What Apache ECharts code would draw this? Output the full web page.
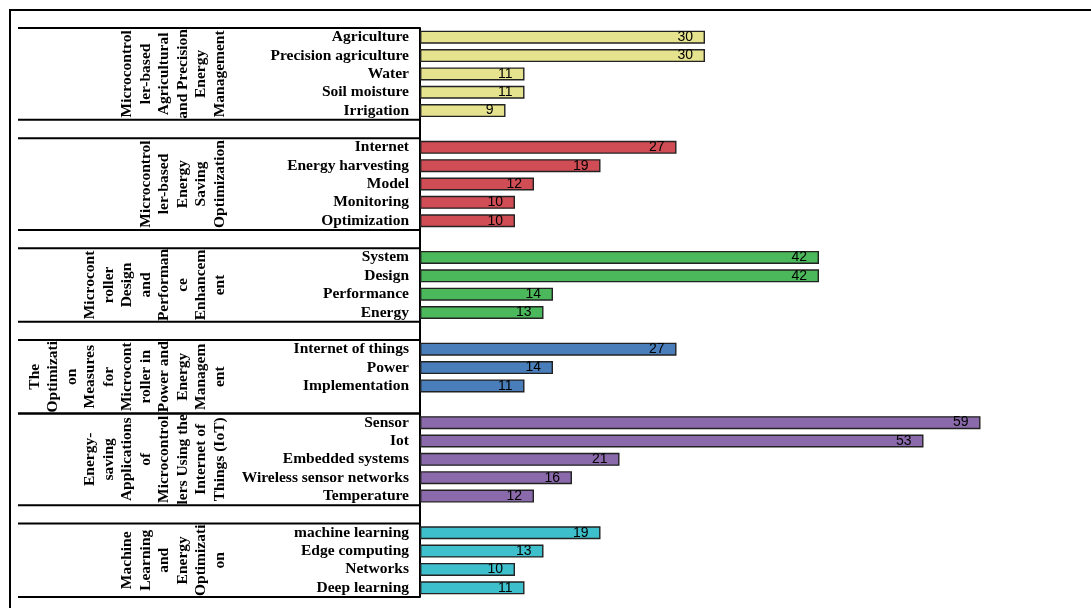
<!DOCTYPE html>
<html>
<head>
<meta charset="utf-8">
<script src="https://cdn.jsdelivr.net/npm/echarts@6/dist/echarts.min.js"></script>
<style>
html,body{margin:0;padding:0;background:#fff;}
#main{width:1091px;height:608px;}
</style>
</head>
<body>
<div id="main"></div>
<script>
// ---- data ----
const groupLabels = [
  ['Microcontrol', 'ler-based', 'Agricultural', 'and Precision', 'Energy', 'Management'],
  ['Microcontrol', 'ler-based', 'Energy', 'Saving', 'Optimization'],
  ['Microcont', 'roller', 'Design', 'and', 'Performan', 'ce', 'Enhancem', 'ent'],
  ['The', 'Optimizati', 'on', 'Measures', 'for', 'Microcont', 'roller in', 'Power and', 'Energy', 'Managem', 'ent'],
  ['Energy-', 'saving', 'Applications', 'of', 'Microcontrol', 'lers Using the', 'Internet of', 'Things (IoT)'],
  ['Machine', 'Learning', 'and', 'Energy', 'Optimizati', 'on']
];
const cats1 = ['Agriculture', 'Precision agriculture', 'Water', 'Soil moisture', 'Irrigation'];
const vals1 = [30, 30, 11, 11, 9];
const cats2 = ['Internet', 'Energy harvesting', 'Model', 'Monitoring', 'Optimization'];
const vals2 = [27, 19, 12, 10, 10];
const cats3 = ['System', 'Design', 'Performance', 'Energy'];
const vals3 = [42, 42, 14, 13];
const cats4 = ['Internet of things', 'Power', 'Implementation'];
const vals4 = [27, 14, 11];
const cats5 = ['Sensor', 'Iot', 'Embedded systems', 'Wireless sensor networks', 'Temperature'];
const vals5 = [59, 53, 21, 16, 12];
const cats6 = ['machine learning', 'Edge computing', 'Networks', 'Deep learning'];
const vals6 = [19, 13, 10, 11];
const groupColors = ['#E6E38E', '#D14D55', '#4CB85C', '#4A7EBB', '#8A6AAA', '#3EBFCC'];
// extra empty slots that a group's label bracket spans below its last bar
const groupExtraSlots = [0, 0, 0, 1, 0, 0];

const groupCats = [cats1, cats2, cats3, cats4, cats5, cats6];
const groupVals = [vals1, vals2, vals3, vals4, vals5, vals6];

// ---- build flat category list with gaps ----
const categories = [];
const barData = [];
const spans = [];
groupCats.forEach((cats, g) => {
  const start = categories.length;
  cats.forEach((c, i) => {
    categories.push(c);
    barData.push({ value: groupVals[g][i], itemStyle: { color: groupColors[g] } });
  });
  const end = categories.length - 1 + groupExtraSlots[g];
  spans.push([start, end]);
  if (g < groupCats.length - 1) {
    categories.push('__gap' + g);
    barData.push({ value: null });
  }
});

const chart = echarts.init(document.getElementById('main'), null, { renderer: 'canvas' });
chart.setOption({
  backgroundColor: '#fff',
  animation: false,
  grid: { left: 420, right: 101, top: 28, bottom: 11, containLabel: false },
  xAxis: { type: 'value', min: 0, max: 60, show: false },
  yAxis: {
    type: 'category',
    inverse: true,
    data: categories,
    axisLine: { show: true, lineStyle: { color: '#000', width: 2 } },
    axisTick: { show: false },
    splitLine: { show: false },
    axisLabel: {
      margin: 11,
      color: '#000',
      fontFamily: 'Liberation Serif',
      fontWeight: 'bold',
      fontSize: 15.5,
      interval: 0,
      formatter: v => (v.indexOf('__gap') === 0 ? '' : v)
    }
  },
  series: [{
    type: 'bar',
    data: barData,
    barWidth: 13,
    itemStyle: { borderColor: '#222', borderWidth: 1.4 },
    label: {
      show: true,
      position: 'insideRight',
      distance: 12,
      color: '#000',
      fontFamily: 'Liberation Sans',
      fontSize: 14,
      formatter: p => p.value
    }
  }]
});

// ---- group brackets and labels, positioned through the axis ----
const p0 = chart.convertToPixel({ yAxisIndex: 0 }, 0);
const p1 = chart.convertToPixel({ yAxisIndex: 0 }, 1);
const band = p1 - p0;
const axisX = chart.convertToPixel({ xAxisIndex: 0 }, 0);
const graphics = [{
  type: 'rect',
  shape: { x: 10, y: 10, width: 1200, height: 700 },
  style: { fill: 'none', stroke: '#000', lineWidth: 2 },
  silent: true
}];
spans.forEach((sp, g) => {
  const top = chart.convertToPixel({ yAxisIndex: 0 }, sp[0]) - band / 2;
  const bot = chart.convertToPixel({ yAxisIndex: 0 }, sp[1]) + band / 2;
  [top, bot].forEach(y => {
    graphics.push({
      type: 'line',
      shape: { x1: 18, y1: y, x2: axisX, y2: y },
      style: { stroke: '#000', lineWidth: 2 },
      silent: true
    });
  });
  graphics.push({
    type: 'text',
    x: 229,
    y: (top + bot) / 2,
    rotation: Math.PI / 2,
    style: {
      text: groupLabels[g].join('\n'),
      fontFamily: 'Liberation Serif',
      fontWeight: 'bold',
      fontSize: 15.5,
      lineHeight: 18.5,
      fill: '#000',
      align: 'center',
      verticalAlign: 'bottom'
    },
    silent: true
  });
});
chart.setOption({ graphic: graphics });
</script>
</body>
</html>
